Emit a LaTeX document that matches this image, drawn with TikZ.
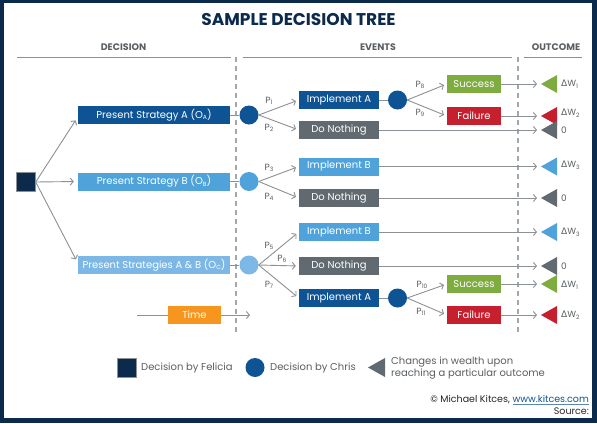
\documentclass[tikz,border=0pt]{standalone}
\usepackage{fontspec}
\setmainfont{Poppins}
\newfontfamily\dejavu{DejaVu Sans}
\usetikzlibrary{arrows.meta,calc}
\definecolor{navy}{HTML}{0C2A4B}
\definecolor{dblue}{HTML}{0E5495}
\definecolor{bblue}{HTML}{4FA3DA}
\definecolor{cblue}{HTML}{7DB7E5}
\definecolor{gbox}{HTML}{616A70}
\definecolor{sgreen}{HTML}{7FAC3F}
\definecolor{fred}{HTML}{C6202F}
\definecolor{torange}{HTML}{F7961E}
\definecolor{lgray}{HTML}{8C9196}
\definecolor{tgray}{HTML}{5A5F63}
\definecolor{dashgray}{HTML}{A3A7AB}
\newcommand\lidx[1]{\raisebox{-0.3ex}{\fontsize{6}{7}\selectfont #1}}
\newcommand\dW[1]{{\dejavu\fontsize{9}{10}\selectfont Δ}W\lidx{#1}}
\begin{document}
\begin{tikzpicture}[x=1pt,y=-1pt,
  box/.style={inner sep=0pt, minimum height=18pt, text=white, font=\fontsize{10}{12}\selectfont},
  sbox/.style={box, minimum width=152pt},
  ibox/.style={box, minimum width=80pt},
  obox/.style={box, minimum width=54pt},
  dot/.style={circle, inner sep=0pt, minimum size=19pt},
  conn/.style={draw=lgray, line width=0.9pt},
  arr/.style={conn, -{Straight Barb[length=3pt,width=7pt]}, shorten >=3pt},
  oarr/.style={conn, -{Straight Barb[length=3pt,width=7pt]}, shorten >=4pt},
  plab/.style={text=tgray, font=\fontsize{9}{10}\selectfont, inner sep=0pt},
  olab/.style={text=tgray, font=\fontsize{9}{10}\selectfont, inner sep=0pt, anchor=west},
  hdr/.style={text=tgray, font=\fontsize{9.5}{11}\selectfont\bfseries, inner sep=0pt},
  leg/.style={text=tgray, font=\fontsize{10}{12.5}\selectfont, inner sep=0pt, anchor=west, align=left},
]
\useasboundingbox (0,0) rectangle (597,423);
\fill[navy] (0,0) rectangle (597,423);
\fill[white] (4,3) rectangle (592,418);

% title and headers
\node[text=navy, font=\fontsize{17}{19}\selectfont\bfseries, inner sep=0pt] (title) at (298.5,20) {SAMPLE DECISION TREE};
\node[hdr] (hdec) at (123.5,47) {DECISION};
\node[hdr] (hev) at (378,47) {EVENTS};
\node[hdr] (hout) at (556,47) {OUTCOME};
\draw[lgray, line width=0.9pt] (17,57) -- (231,57) (243,57) -- (512,57) (524,57) -- (582,57);
\draw[dashgray, line width=1.2pt, dash pattern=on 5pt off 4pt] (236,57) -- (236,332) (518,57) -- (518,332);

% decision square
\node[fill=navy, draw=lgray, line width=0.4pt, inner sep=0pt, minimum size=19pt] (sq) at (26,182) {};

% strategy boxes
\node[sbox, fill=dblue] (sA) at (154,115) {Present Strategy A (O\lidx{A})};
\node[sbox, fill=bblue] (sB) at (154,181.5) {Present Strategy B (O\lidx{B})};
\node[sbox, fill=cblue] (sC) at (154,265) {Present Strategies A \& B (O\lidx{C})};
\draw[arr, shorten >=4pt] (sq.east) -- ($(sA.west)+(0,2)$);
\draw[arr, shorten >=4pt] (sq.east) -- (sB.west);
\draw[arr, shorten >=4pt] (sq.east) -- ($(sC.west)+(0,-2)$);

% chance circles
\node[dot, fill=dblue] (cA) at (249,115) {};
\node[dot, fill=bblue] (cB) at (249,181.5) {};
\node[dot, fill=cblue] (cC) at (249,265) {};
\draw[conn] (sA) -- (cA);
\draw[conn] (sB) -- (cB);
\draw[conn] (sC) -- (cC);

% events A
\node[ibox, fill=dblue] (iA1) at (339,100) {Implement A};
\node[ibox, fill=gbox] (nA) at (339,130) {Do Nothing};
\draw[arr] (cA.east) -- (iA1.west);
\draw[arr] (cA.east) -- (nA.west);
\node[plab] (p1) at (269,101) {P\lidx{1}};
\node[plab] (p2) at (269,128) {P\lidx{2}};
\node[dot, fill=dblue] (cA1) at (397.5,100) {};
\draw[conn] (iA1) -- (cA1);
\node[obox, fill=sgreen] (su1) at (474,84) {Success};
\node[obox, fill=fred] (fa1) at (474,116) {Failure};
\draw[arr] (cA1.east) -- (su1.west);
\draw[arr] (cA1.east) -- (fa1.west);
\node[plab] (p8) at (420,85) {P\lidx{8}};
\node[plab] (p9) at (420,113) {P\lidx{9}};

% events B
\node[ibox, fill=bblue] (iB1) at (339,166.5) {Implement B};
\node[ibox, fill=gbox] (nB) at (339,198) {Do Nothing};
\draw[arr] (cB.east) -- (iB1.west);
\draw[arr] (cB.east) -- (nB.west);
\node[plab] (p3) at (269,168) {P\lidx{3}};
\node[plab] (p4) at (269,197) {P\lidx{4}};

% events C
\node[ibox, fill=bblue] (iB2) at (339,232) {Implement B};
\node[ibox, fill=gbox] (nC) at (339,266) {Do Nothing};
\node[ibox, fill=dblue] (iA2) at (339,298) {Implement A};
\draw[arr] (cC.east) -- (iB2.west);
\draw[arr] (cC.east) -- (nC.west);
\draw[arr] (cC.east) -- (iA2.west);
\node[plab] (p5) at (269,246) {P\lidx{5}};
\node[plab] (p6) at (282,259) {P\lidx{6}};
\node[plab] (p7) at (269,285) {P\lidx{7}};
\node[dot, fill=dblue] (cA2) at (397.5,298) {};
\draw[conn] (iA2) -- (cA2);
\node[obox, fill=sgreen] (su2) at (474,284) {Success};
\node[obox, fill=fred] (fa2) at (474,315) {Failure};
\draw[arr] (cA2.east) -- (su2.west);
\draw[arr] (cA2.east) -- (fa2.west);
\node[plab] (p10) at (422,285) {P\lidx{10}};
\node[plab] (p11) at (421,312) {P\lidx{11}};

% outcome triangles
\foreach \n/\y/\c in {o1/84/sgreen, o2/116/fred, o3/130/gbox, o4/166.5/bblue, o5/198/gbox, o6/232/bblue, o7/266/gbox, o8/284/sgreen, o9/315/fred}{
  \coordinate (\n) at (541,\y);
  \fill[\c] (\n) -- ++(16,-9) -- ++(0,18) -- cycle;
}
\draw[oarr] (su1) -- (o1);
\draw[oarr] (fa1) -- (o2);
\draw[oarr] (nA) -- (o3);
\draw[oarr] (iB1) -- (o4);
\draw[oarr] (nB) -- (o5);
\draw[oarr] (iB2) -- (o6);
\draw[oarr] (nC) -- (o7);
\draw[oarr] (su2) -- (o8);
\draw[oarr] (fa2) -- (o9);
\node[olab] (l1) at (561,84) {\dW{1}};
\node[olab] (l2) at (561,113) {\dW{2}};
\node[olab] (l3) at (561,130) {0};
\node[olab] (l4) at (561,165) {\dW{3}};
\node[olab] (l5) at (561,198) {0};
\node[olab] (l6) at (561,232) {\dW{3}};
\node[olab] (l7) at (561,266) {0};
\node[olab] (l8) at (561,285) {\dW{1}};
\node[olab] (l9) at (561,315) {\dW{2}};

% time
\coordinate (ts) at (137,315);
\coordinate (te) at (250,315);
\node[box, fill=torange, minimum width=53pt] (time) at (194.5,315) {Time};
\draw[conn] (ts) -- (time);
\draw[conn, -{Straight Barb[length=3pt,width=7pt]}] (time) -- (te);

% legend
\node[fill=navy, draw=lgray, line width=0.4pt, inner sep=0pt, minimum size=19pt] (lsq) at (126.5,367.5) {};
\node[leg] (lsqt) at (141,368) {Decision by Felicia};
\node[dot, fill=dblue] (ldot) at (255,367.5) {};
\node[leg] (ldott) at (270,368) {Decision by Chris};
\coordinate (ltri) at (368,367.5);
\fill[gbox] (ltri) -- ++(17,-9.5) -- ++(0,19) -- cycle;
\node[leg] (ltrit) at (391,368) {Changes in wealth upon\\reaching a particular outcome};

% credits
\node[inner sep=0pt, anchor=east, text=black!85, font=\fontsize{9.5}{11}\selectfont] (cred) at (589,400) {\textcopyright\ Michael Kitces, \textcolor{dblue}{www.kitces.com}};
\draw[dblue!70, line width=0.5pt] ($(cred.base east)+(0,1.5)$) -- ++(-76,0);
\node[inner sep=0pt, anchor=east, text=black!85, font=\fontsize{9.5}{11}\selectfont] (src) at (589,411) {Source:};
\end{tikzpicture}
\end{document}
